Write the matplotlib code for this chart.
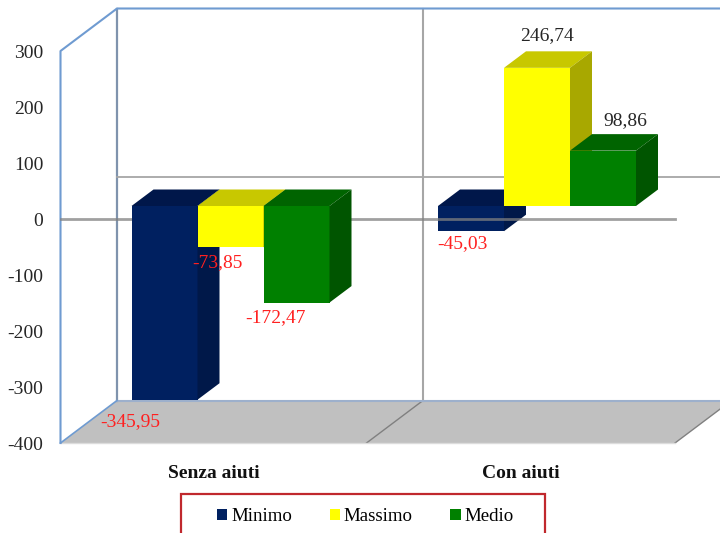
import matplotlib
matplotlib.use("Agg")
import matplotlib.pyplot as plt
from matplotlib.patches import Polygon, Patch, Rectangle

plt.rcParams['font.family'] = ['Liberation Serif', 'DejaVu Serif']

categories = ['Senza aiuti', 'Con aiuti']
series = ['Minimo', 'Massimo', 'Medio']
minimo = [-345.95, -45.03]
massimo = [-73.85, 246.74]
medio = [-172.47, 98.86]
yticks = [300, 200, 100, 0, -100, -200, -300, -400]

# front, top, side
colors = {'Minimo': ('#002060', '#00174a', '#001849'),
          'Massimo': ('#ffff00', '#c8c800', '#a8a800'),
          'Medio': ('#008000', '#006400', '#005500')}

W, H = 720, 533
X0, X1 = 60.5, 675      # front plane in pixels
Y_TOP, Y_BOT = 51, 443
K = (Y_BOT - Y_TOP) / 700.0  # pixel per unit

WALL_DX, WALL_DY = 56.5, 42.5 / K
BAR_DX, BAR_DY = 22, 16.5 / K
BAR_OFF = 13 / K        # bars sit a bit behind the front plane
BAR_W = 66
group_x = [131.5, 438]

# label offsets from the bar end, pixels
label_off = {('Minimo', 0): (-34.5, -21.5), ('Massimo', 0): (-13, -15), ('Medio', 0): (-21, -15.5),
             ('Minimo', 1): (-9, -12.5), ('Massimo', 1): (10, 32), ('Medio', 1): (22, 30)}

fig = plt.figure(figsize=(W / 100, H / 100), dpi=100)
ax = fig.add_axes([X0 / W, (H - Y_BOT) / H, (X1 - X0) / W, (Y_BOT - Y_TOP) / H])
ax.set_xlim(X0, X1)
ax.set_ylim(-400, 300)
for s in ax.spines.values():
    s.set_visible(False)
ax.patch.set_visible(False)

ymin, ymax = -400, 300
back = ymin + WALL_DY
xb = X0 + WALL_DX
xr = X1 + WALL_DX
xmid = 423

# floor
ax.add_patch(Polygon([(X0, ymin), (X1, ymin), (xr, back), (xb, back)], fc='#c0c0c0', ec='none', zorder=1, clip_on=False))
ax.plot([xmid, xmid - WALL_DX], [back, ymin], color='#808080', lw=1, zorder=1.1, clip_on=False)
ax.plot([X1, xr], [ymin, back], color='#808080', lw=1, zorder=1.1, clip_on=False)
ax.plot([X0, X1], [ymin, ymin], color='#dcdcdc', lw=1, zorder=1.1, clip_on=False)

# walls
blue = '#6f9bd1'
ax.plot([xb, xb], [back, ymax + WALL_DY], color='#7f93ad', lw=1.6, zorder=1.2, clip_on=False)
ax.plot([xmid, xmid], [back, ymax + WALL_DY], color='#a6a6a6', lw=1.5, zorder=1.2, clip_on=False)
ax.plot([xb, xr], [back, back], color='#9db0cc', lw=1.5, zorder=1.2, clip_on=False)
ax.plot([xb, xr], [WALL_DY, WALL_DY], color='#a6a6a6', lw=1.3, zorder=1.2, clip_on=False)
ax.plot([X0, X0, xb, xr], [ymin, ymax, ymax + WALL_DY, ymax + WALL_DY], color=blue, lw=1.5, zorder=1.3, clip_on=False)
ax.plot([X0, xb], [ymin, back], color=blue, lw=1.2, zorder=1.3, clip_on=False)


def draw_bar(x, v, name, z):
    front, top, side = colors[name]
    end = v + BAR_OFF
    t = max(end, BAR_OFF)
    ax.bar(x, v, width=BAR_W, bottom=BAR_OFF, align='edge', color=front, zorder=z, clip_on=False)
    ax.add_patch(Polygon([(x, t), (x + BAR_W, t), (x + BAR_W + BAR_DX, t + BAR_DY), (x + BAR_DX, t + BAR_DY)],
                         fc=top, ec='none', zorder=z, clip_on=False))
    ax.add_patch(Polygon([(x + BAR_W, BAR_OFF), (x + BAR_W, end), (x + BAR_W + BAR_DX, end + BAR_DY),
                          (x + BAR_W + BAR_DX, BAR_OFF + BAR_DY)],
                         fc=side, ec='none', zorder=z, clip_on=False))


data = {'Minimo': minimo, 'Massimo': massimo, 'Medio': medio}
# zero line goes over the second group but behind the first
z_order = {1: 2, 0: 6}
for i in range(len(categories)):
    for j, name in enumerate(series):
        v = data[name][i]
        x = group_x[i] + j * BAR_W
        draw_bar(x, v, name, z_order[i] + j)
        end = v + BAR_OFF
        dx, dy = label_off[(name, i)]
        ax.annotate(str(v).replace('.', ','), (x + BAR_W / 2, end), xytext=(dx, dy), textcoords='offset pixels',
                    ha='center', va='center', fontsize=14, zorder=20, annotation_clip=False,
                    color='#ff2020' if v < 0 else '#262626')

ax.plot([X0, X1], [0, 0], color='#808080', alpha=0.75, lw=2, zorder=5, clip_on=False)

ax.set_yticks(yticks)
ax.set_yticklabels([str(t) for t in yticks], fontsize=14, color='#262626')
ax.set_xticks([213.5, 520.5])
ax.set_xticklabels(categories, fontsize=14, fontweight='bold', color='#111111')
ax.tick_params(axis='y', length=0, pad=12.5)
ax.tick_params(axis='x', length=0, pad=15.5)

# legend box runs off the bottom of the picture
fig.add_artist(Rectangle((180.5 / W, -10 / H), 364 / W, (H - 494 + 10) / H, transform=fig.transFigure,
                         fc='white', ec='#c0282d', lw=1.6))
handles = [Patch(fc=colors[n][0], ec='none', label=n) for n in series]
fig.legend(handles=handles, ncol=3, frameon=False, loc='upper left',
           bbox_to_anchor=(217 / W, (H - 508) / H), bbox_transform=fig.transFigure,
           borderaxespad=0, borderpad=0, fontsize=13.6, handlelength=0.54, handleheight=0.54,
           handletextpad=0.2, columnspacing=2.0)

fig.savefig('out.png', dpi=100)
